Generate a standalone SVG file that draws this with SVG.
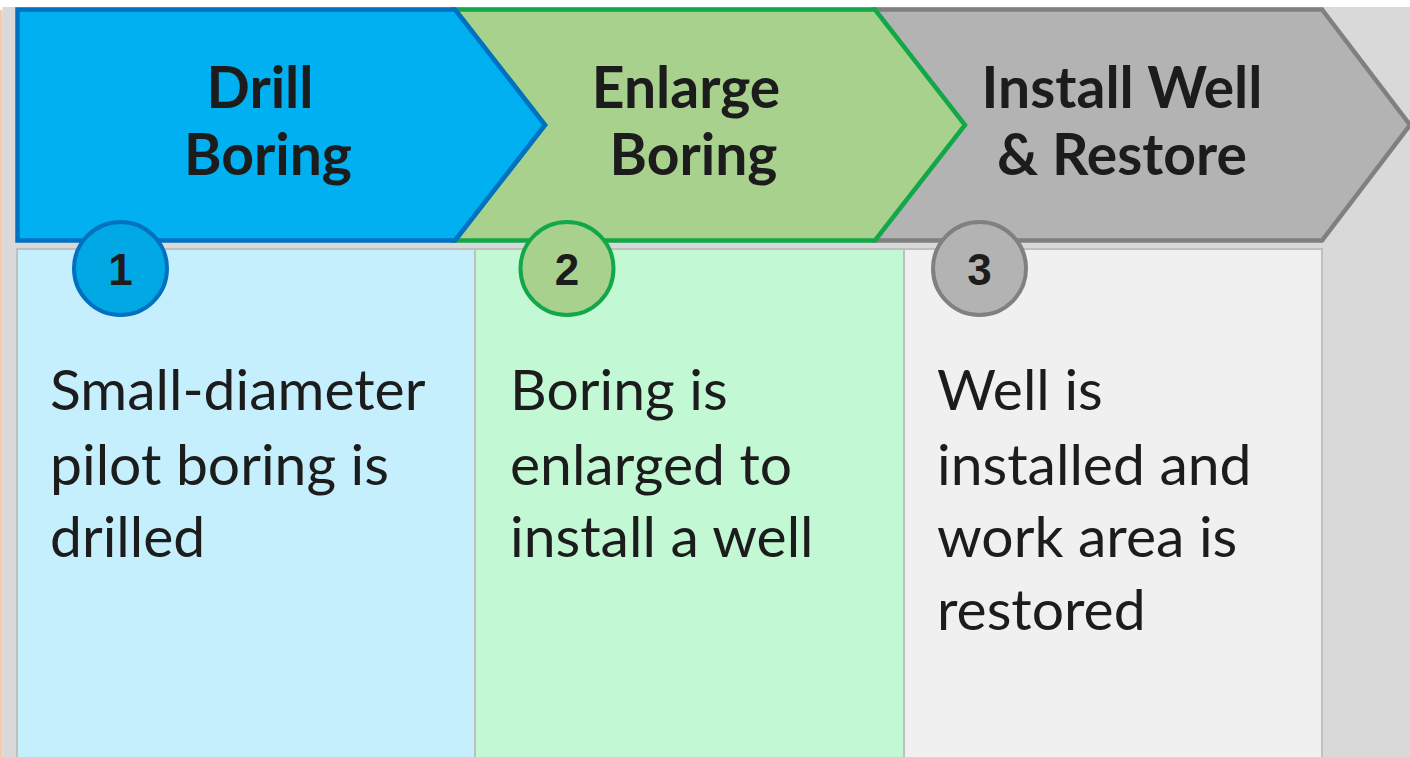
<svg xmlns="http://www.w3.org/2000/svg" width="1410" height="757" viewBox="0 0 1410 757">
<style>
.head{font-family:Lato,"Liberation Sans",sans-serif;font-weight:bold;font-size:57px;fill:#1c1c1c;text-anchor:middle}
.body{font-family:Lato,"Liberation Sans",sans-serif;font-size:57px;fill:#1c1c1c}
.num{font-family:"Liberation Sans",Arial,sans-serif;font-weight:bold;font-size:44px;fill:#1c1c1c;text-anchor:middle}
.panel{stroke:#bfbfbf;stroke-width:2}
.chev{stroke-width:4.5;stroke-linejoin:miter}
.circ{stroke-width:4}
</style>
<rect x="0" y="0" width="1410" height="757" fill="#ffffff"/>
<rect x="0" y="10" width="2.5" height="747" fill="#f8c9ad"/>
<rect x="2.5" y="7" width="1407.5" height="750" fill="#d9d9d9"/>
<g id="connectors"/>
<g id="step3">
<rect class="panel" x="904" y="249" width="418" height="520" fill="#f0f0f0"/>
<polygon class="chev" points="875,9.5 1322,9.5 1410,125 1322,240.5 875,240.5" fill="#b3b3b3" stroke="#808080"/>
<text class="head" x="1122" y="108">Install Well</text>
<text class="head" x="1122" y="175">&amp; Restore</text>
<circle class="circ" cx="979.5" cy="268.5" r="46.5" fill="#b3b3b3" stroke="#808080"/>
<text class="num" x="979.5" y="285">3</text>
<text class="body" x="937" y="410">Well is</text>
<text class="body" x="937" y="485">installed and</text>
<text class="body" x="937" y="557">work area is</text>
<text class="body" x="937" y="630">restored</text>
</g>
<g id="step2">
<rect class="panel" x="475" y="249" width="429" height="520" fill="#c2f8d4"/>
<polygon class="chev" points="455,9.5 875,9.5 965,125 875,240.5 455,240.5 545,125" fill="#a9d18e" stroke="#12a84a"/>
<text class="head" x="686" y="108">Enlarge</text>
<text class="head" x="693.5" y="175">Boring</text>
<circle class="circ" cx="567" cy="268.5" r="46.5" fill="#a9d18e" stroke="#12a84a"/>
<text class="num" x="567" y="285">2</text>
<text class="body" x="510" y="410">Boring is</text>
<text class="body" x="510" y="485">enlarged to</text>
<text class="body" x="510" y="557">install a well</text>
</g>
<g id="step1">
<rect class="panel" x="17" y="249" width="458" height="520" fill="#c5effd"/>
<polygon class="chev" points="17.5,9.5 455,9.5 545,125 455,240.5 17.5,240.5" fill="#00b0f0" stroke="#0070c0"/>
<text class="head" x="260" y="108">Drill</text>
<text class="head" x="268" y="175">Boring</text>
<circle class="circ" cx="120.5" cy="268.5" r="46.5" fill="#00a8e4" stroke="#0070c0"/>
<text class="num" x="120.5" y="285">1</text>
<text class="body" x="50" y="410">Small-diameter</text>
<text class="body" x="50" y="485">pilot boring is</text>
<text class="body" x="50" y="557">drilled</text>
</g>
</svg>
